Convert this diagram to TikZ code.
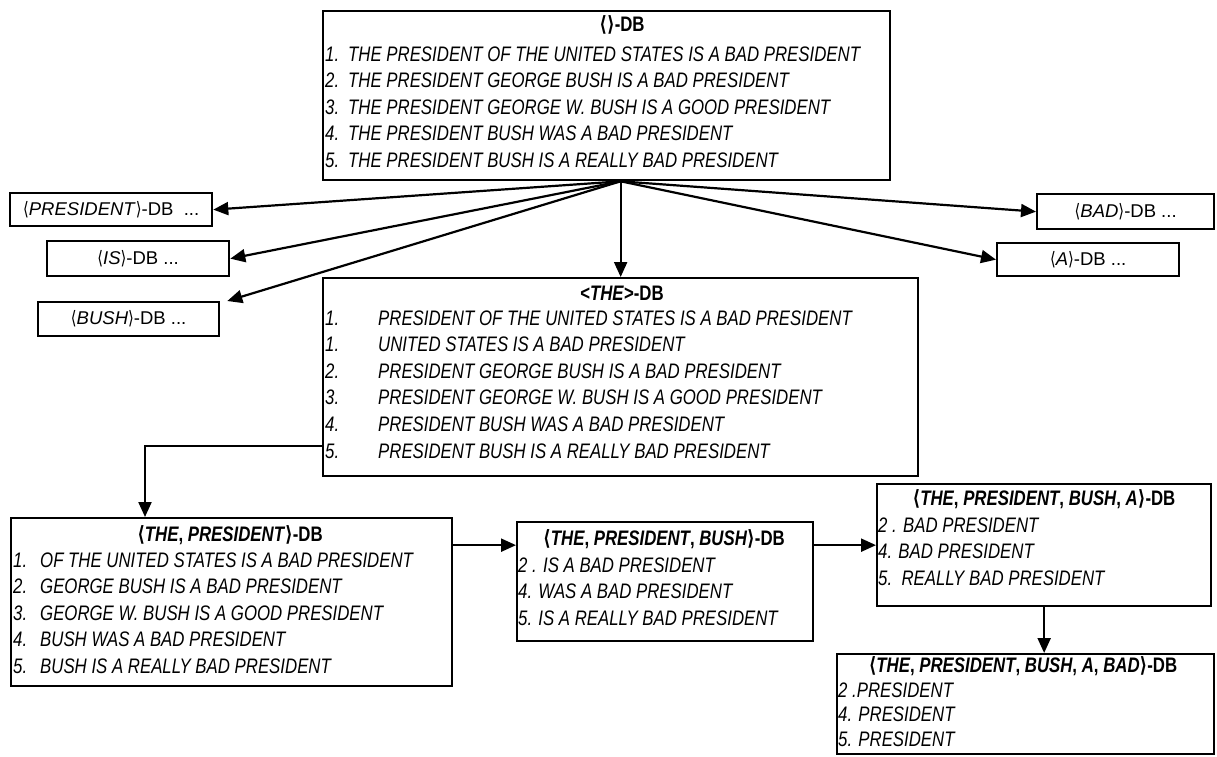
\documentclass[tikz,border=0pt]{standalone}
\usepackage{fontspec}
\setmainfont{Liberation Sans}[FakeStretch=0.8]
\newfontfamily\widesans{Liberation Sans}
\newfontfamily\bracketfont{DejaVu Sans}[FakeStretch=0.8]
\usetikzlibrary{arrows.meta,calc}

% angle brackets around the item sets
\newcommand\dbL{{\bracketfont ⟨}}
\newcommand\dbR{{\bracketfont ⟩}}
% numbered entry with a fixed-width number column
\newcommand\itm[2]{\makebox[#1][l]{#2}}
% list block whose reference point is the baseline of its first row
\newcommand\rows[1]{\begin{tabular}[t]{@{}l@{}}#1\end{tabular}}

\tikzset{
  box/.style={draw, line width=2.3pt, inner sep=0pt, anchor=north west},
  small/.style={box, font=\widesans\fontsize{18.5}{22}\selectfont},
  ttl/.style={anchor=base, inner sep=0pt, font=\fontsize{21}{26.6}\selectfont\bfseries},
  lst/.style={anchor=base west, inner sep=0pt, font=\fontsize{21}{26.6}\selectfont\itshape},
  arr/.style={-{Triangle[length=15pt,width=13pt]}, line width=2.2pt},
}

\begin{document}
\begin{tikzpicture}[x=1pt,y=-1pt]
\useasboundingbox (0,0) rectangle (1217,756);

% root database
\node[box, minimum width=567pt, minimum height=169pt] (root) at (322,10) {};
\node[ttl] (rootT) at (622,31) {\dbL\dbR-DB};
\node[lst] (rootL) at (325,61) {\rows{%
  \itm{23pt}{1.}THE PRESIDENT OF THE UNITED STATES IS A BAD PRESIDENT\\
  \itm{23pt}{2.}THE PRESIDENT GEORGE BUSH IS A BAD PRESIDENT\\
  \itm{23pt}{3.}THE PRESIDENT GEORGE W. BUSH IS A GOOD PRESIDENT\\
  \itm{23pt}{4.}THE PRESIDENT BUSH WAS A BAD PRESIDENT\\
  \itm{23pt}{5.}THE PRESIDENT BUSH IS A REALLY BAD PRESIDENT}};

% collapsed projections
\node[small, minimum width=202pt, minimum height=33pt] (pres) at (9,192) {\dbL\textit{PRESIDENT}\dbR-DB\ \ ...};
\node[small, minimum width=182pt, minimum height=35pt] (is) at (46,240) {\dbL\textit{IS}\dbR-DB ...};
\node[small, minimum width=181pt, minimum height=34pt] (bush) at (37,301) {\dbL\textit{BUSH}\dbR-DB ...};
\node[small, minimum width=177pt, minimum height=35pt] (bad) at (1036,193) {\dbL\textit{BAD}\dbR-DB ...};
\node[small, minimum width=182pt, minimum height=33pt] (a) at (996,242) {\dbL\textit{A}\dbR-DB ...};

% <THE>-projected database
\node[box, minimum width=595pt, minimum height=198pt] (the) at (322,277) {};
\node[ttl] (theT) at (622,300) {<\textit{THE}>-DB};
\node[lst] (theL) at (325,325) {\rows{%
  \itm{53pt}{1.}PRESIDENT OF THE UNITED STATES IS A BAD PRESIDENT\\
  \itm{53pt}{1.}UNITED STATES IS A BAD PRESIDENT\\
  \itm{53pt}{2.}PRESIDENT GEORGE BUSH IS A BAD PRESIDENT\\
  \itm{53pt}{3.}PRESIDENT GEORGE W. BUSH IS A GOOD PRESIDENT\\
  \itm{53pt}{4.}PRESIDENT BUSH WAS A BAD PRESIDENT\\
  \itm{53pt}{5.}PRESIDENT BUSH IS A REALLY BAD PRESIDENT}};

% <THE, PRESIDENT>-DB
\node[box, minimum width=441pt, minimum height=168pt] (tp) at (10,517) {};
\node[ttl] (tpT) at (230,541) {\dbL\textit{THE}, \textit{PRESIDENT}\dbR-DB};
\node[lst] (tpL) at (13,567) {\rows{%
  \itm{27pt}{1.}OF THE UNITED STATES IS A BAD PRESIDENT\\
  \itm{27pt}{2.}GEORGE BUSH IS A BAD PRESIDENT\\
  \itm{27pt}{3.}GEORGE W. BUSH IS A GOOD PRESIDENT\\
  \itm{27pt}{4.}BUSH WAS A BAD PRESIDENT\\
  \itm{27pt}{5.}BUSH IS A REALLY BAD PRESIDENT}};

% <THE, PRESIDENT, BUSH>-DB
\node[box, minimum width=296pt, minimum height=119pt] (tpb) at (516,521) {};
\node[ttl] (tpbT) at (664,545) {\dbL\textit{THE}, \textit{PRESIDENT}, \textit{BUSH}\dbR-DB};
\node[lst] (tpbL) at (518,572) {\rows{%
  2 . IS A BAD PRESIDENT\\
  4. WAS A BAD PRESIDENT\\
  5. IS A REALLY BAD PRESIDENT}};

% <THE, PRESIDENT, BUSH, A>-DB
\node[box, minimum width=334pt, minimum height=122pt] (tpba) at (876,483) {};
\node[ttl] (tpbaT) at (1044,505) {\dbL\textit{THE}, \textit{PRESIDENT}, \textit{BUSH}, \textit{A}\dbR-DB};
\node[lst] (tpbaL) at (878,532) {\rows{%
  2 . BAD PRESIDENT\\
  4. BAD PRESIDENT\\
  5.\ \ REALLY BAD PRESIDENT}};

% <THE, PRESIDENT, BUSH, A, BAD>-DB
\node[box, minimum width=377pt, minimum height=100pt] (tpbab) at (836,653) {};
\node[ttl] (tpbabT) at (1023,672) {\dbL\textit{THE}, \textit{PRESIDENT}, \textit{BUSH}, \textit{A}, \textit{BAD}\dbR-DB};
\node[lst, font=\fontsize{21}{24.6}\selectfont\itshape] (tpbabL) at (838,697) {\rows{%
  2 .PRESIDENT\\
  4. PRESIDENT\\
  5. PRESIDENT}};

% fan-out point below the root database
\coordinate (hub) at (the.north |- root.south);

% projections of the root database
\draw[arr] (hub) -- (pres.east);
\draw[arr] (hub) -- (is.east);
\draw[arr] (hub) -- ([xshift=7pt]bush.north east);
\draw[arr] (hub) -- (bad.west);
\draw[arr] (hub) -- (a.west);
\draw[arr] (hub) -- (the.north);

% chain of deeper projections
\draw[arr] ([yshift=31pt]the.south west) -| ([xshift=135pt]tp.north west);
\draw[arr] (tp.east |- tpba.west) -- (tpb.west |- tpba.west);
\draw[arr] (tpb.east |- tpba.west) -- (tpba.west);
\draw[arr] (tpba.south) -- (tpba.south |- tpbab.north);
\end{tikzpicture}
\end{document}
